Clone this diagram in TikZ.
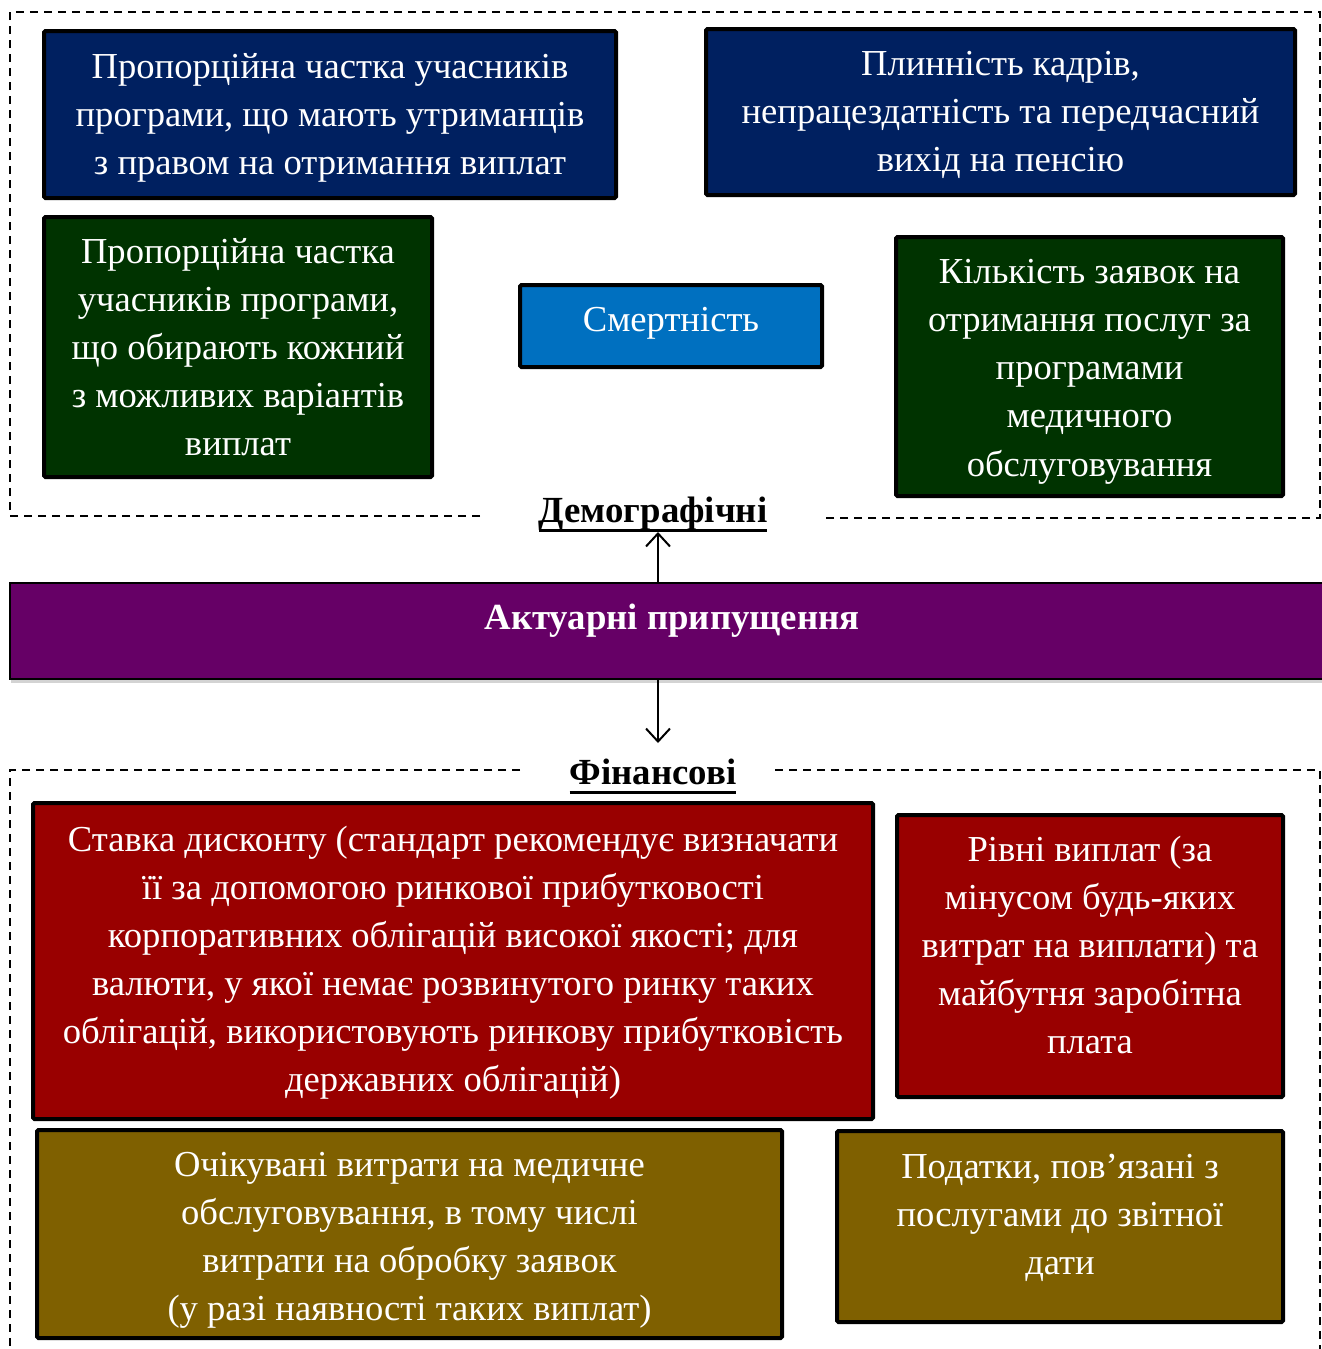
\documentclass[tikz,border=0pt]{standalone}
\usepackage{fontspec}
\setmainfont{Liberation Serif}
\usetikzlibrary{arrows.meta,shadows,calc}
\definecolor{navybox}{HTML}{002060}
\definecolor{greenbox}{HTML}{003300}
\definecolor{bluebox}{HTML}{0070C0}
\definecolor{purplebar}{HTML}{660066}
\definecolor{redbox}{HTML}{990000}
\definecolor{olivebox}{HTML}{7F6000}
\begin{document}
\begin{tikzpicture}[x=1pt,y=-1pt,
  factor/.style={draw=black, line width=4pt, rounded corners=1.5pt, inner sep=0pt,
    drop shadow={shadow xshift=1.5pt, shadow yshift=-1.5pt, opacity=0.35}},
  factortext/.style={text=white, align=center, inner sep=0pt,
    font=\fontsize{36.6}{48}\selectfont},
  group/.style={dashed, line width=1.3pt, dash pattern=on 8pt off 6pt},
  heading/.style={font=\bfseries\fontsize{36.8}{40}\selectfont, inner sep=0pt},
  headline/.style={line width=3pt},
  link/.style={line width=2pt, -{Straight Barb[length=13pt,width=24pt,line width=2pt]}}]
\useasboundingbox (0,0) rectangle (1322,1349);

% demographic group frame
\draw[group] (480,516) -- (10,516) -- (10,12) -- (1320,12) -- (1320,518) -- (822,518);
% financial group frame
\draw[group] (520,770) -- (10,770) -- (10,1349);
\draw[group] (775,770) -- (1320,770) -- (1320,1349);

% demographic assumptions
\node[factor, fill=navybox, minimum width=572, minimum height=167] (d1) at (330,114.5) {};
\node[factortext] (d1t) at (330,117.5)
  {Пропорційна частка учасників\\програми, що мають утриманців\\з правом на отримання виплат};
\node[factor, fill=navybox, minimum width=589, minimum height=166] (d2) at (1000.5,112) {};
\node[factortext] (d2t) at (1000.5,115)
  {Плинність кадрів,\\непрацездатність та передчасний\\вихід на пенсію};
\node[factor, fill=greenbox, minimum width=388, minimum height=260] (d3) at (238,347) {};
\node[factortext] (d3t) at (238,347.5)
  {Пропорційна частка\\учасників програми,\\що обирають кожний\\з можливих варіантів\\виплат};
\node[factor, fill=bluebox, minimum width=302, minimum height=82] (d4) at (671,326) {};
\node[factortext] (d4t) at (671,323) {Смертність};
\node[factor, fill=greenbox, minimum width=387, minimum height=259] (d5) at (1089.5,366.5) {};
\node[factortext, font=\fontsize{36.6}{48.25}\selectfont] (d5t) at (1089.5,371.5)
  {Кількість заявок на\\отримання послуг за\\програмами\\медичного\\обслуговування};

% headings
\node[heading] (dem) at (653,514) {Демографічні};
\draw[headline] ($(dem.base west)+(0,8)$) -- ($(dem.base east)+(0,8)$);
\node[heading] (fin) at (653,772) {Фінансові};
\draw[headline] ($(fin.base west)+(0,8)$) -- ($(fin.base east)+(0,8)$);

% central bar
\node[draw=black, line width=2pt, fill=purplebar, minimum width=1316,
  minimum height=96, inner sep=0pt,
  drop shadow={shadow xshift=1pt, shadow yshift=-4pt, opacity=0.35}]
  (bar) at (668,631) {};
\node[text=white, inner sep=0pt, font=\bfseries\fontsize{36.8}{40}\selectfont]
  (bartext) at (672,621) {Актуарні припущення};
\coordinate (barup) at (658,583);
\coordinate (bardown) at (658,679);
\coordinate (demtip) at (658,532);
\coordinate (fintip) at (658,743);
\draw[link] (barup) -- (demtip);
\draw[link] (bardown) -- (fintip);

% financial assumptions
\node[factor, fill=redbox, minimum width=840, minimum height=316] (f1) at (453,961) {};
\node[factortext] (f1t) at (453,963)
  {Ставка дисконту (стандарт рекомендує визначати\\її за допомогою ринкової прибутковості\\корпоративних облігацій високої якості; для\\валюти, у якої немає розвинутого ринку таких\\облігацій, використовують ринкову прибутковість\\державних облігацій)};
\node[factor, fill=redbox, minimum width=386, minimum height=282] (f2) at (1090,956) {};
\node[factortext] (f2t) at (1090,945)
  {Рівні виплат (за\\мінусом будь-яких\\витрат на виплати) та\\майбутня заробітна\\плата};
\node[factor, fill=olivebox, minimum width=745, minimum height=208] (f3) at (409.5,1234) {};
\node[factortext] (f3t) at (409.5,1240)
  {Очікувані витрати на медичне\\обслуговування, в тому числі\\витрати на обробку заявок\\(у разі наявності таких виплат)};
\node[factor, fill=olivebox, minimum width=446, minimum height=191] (f4) at (1060,1226.5) {};
\node[factortext] (f4t) at (1060,1217.5)
  {Податки, пов’язані з\\послугами до звітної\\дати};
\end{tikzpicture}
\end{document}
